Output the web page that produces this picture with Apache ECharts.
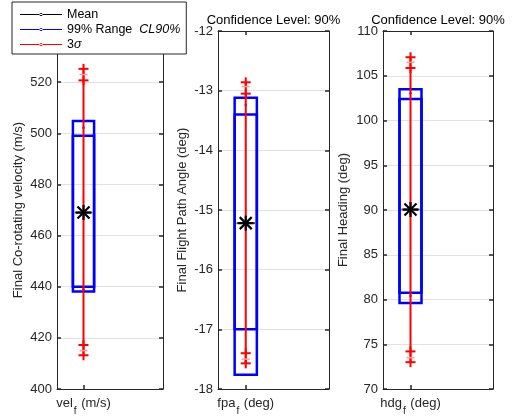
<!DOCTYPE html>
<html><head><meta charset="utf-8">
<script src="https://cdn.jsdelivr.net/npm/echarts@6/dist/echarts.min.js"></script>
<style>html,body{margin:0;padding:0;background:#fff}#c{width:514px;height:417px}</style>
</head><body><div id="c"></div>
<script>
// ---- data ----
const varNames = ['vel', 'fpa', 'hdg'];
const varUnits = ['(m/s)', '(deg)', '(deg)'];
const yAxisNames = ['Final Co-rotating velocity (m/s)', 'Final Flight Path Angle (deg)', 'Final Heading (deg)'];
const yMin = [400, -18, 70];
const yMax = [540, -12, 110];
const yStep = [20, 1, 5];
const meanValues = [469.0, -15.22, 90.05];
const range99Outer = [[438.1, 504.8], [-17.76, -13.12], [79.6, 103.5]];
const range99Inner = [[440.0, 499.0], [-17.0, -13.40], [80.75, 102.4]];
const range99Nominal = [[439.0, 502.2], [-17.54, -13.24], [80.4, 103.05]];
const sigma3Outer = [[413.2, 525.2], [-17.57, -12.86], [73.0, 107.07]];
const sigma3Inner = [[417.2, 520.7], [-17.40, -13.05], [74.2, 105.87]];
const sigma3Nominal = [[415.0, 523.0], [-17.5, -12.93], [73.5, 106.5]];
const titleText = 'Confidence Level: 90%';
const legendNames = ['Mean', '99% Range', '3σ'];

// ---- layout ----
const FONT = '"Liberation Sans", Arial, sans-serif';
const AX = '#262626';
const gridLeft = [57, 218, 383];
const gridWidth = [106, 111, 110];
const gridTop = 31, gridHeight = 358;
const nameGaps = [32, 29, 33];
const halfBox = 0.2;

const chart = echarts.init(document.getElementById('c'), null, {renderer: 'canvas'});

const grids = [], xAxes = [], yAxes = [], series = [], graphics = [];

function boxRender(params, api) {
  const x = api.value(0);
  const children = [];
  [[1, 2], [3, 4]].forEach(([a, b]) => {
    const p1 = api.coord([x - halfBox, api.value(b)]);
    const p2 = api.coord([x + halfBox, api.value(a)]);
    children.push({type: 'rect', shape: {x: p1[0], y: p1[1], width: p2[0] - p1[0], height: p2[1] - p1[1]},
      style: {fill: 'none', stroke: '#0000ff', lineWidth: 2.5}});
  });
  [5, 6].forEach(k => {
    const p = api.coord([x, api.value(k)]);
    children.push({type: 'circle', shape: {cx: p[0], cy: p[1], r: 1.3}, style: {fill: '#3a3aff'}});
  });
  return {type: 'group', children};
}

function sigmaRender(params, api) {
  const x = api.value(0);
  const children = [];
  const lo = api.coord([x, api.value(1)]), hi = api.coord([x, api.value(2)]);
  children.push({type: 'line', shape: {x1: lo[0], y1: lo[1], x2: hi[0], y2: hi[1]}, style: {stroke: '#ff0000', lineWidth: 2}});
  [1, 2, 3, 4].forEach(k => {
    const p = api.coord([x, api.value(k)]);
    children.push({type: 'line', shape: {x1: p[0] - 5, y1: p[1], x2: p[0] + 5, y2: p[1]}, style: {stroke: '#ff0000', lineWidth: 2}});
    children.push({type: 'line', shape: {x1: p[0], y1: p[1] - 5, x2: p[0], y2: p[1] + 5}, style: {stroke: '#ff0000', lineWidth: 2}});
  });
  [5, 6].forEach(k => {
    const p = api.coord([x, api.value(k)]);
    children.push({type: 'line', shape: {x1: p[0] - 4, y1: p[1], x2: p[0] + 4, y2: p[1]}, style: {stroke: '#ff9a9a', lineWidth: 1.5}});
  });
  return {type: 'group', children};
}

function meanRender(params, api) {
  const x = api.value(0);
  const p = api.coord([x, api.value(1)]);
  const pl = api.coord([x - 0.165, api.value(1)]);
  const pr = api.coord([x + 0.165, api.value(1)]);
  const children = [];
  children.push({type: 'line', shape: {x1: pl[0], y1: pl[1], x2: pr[0], y2: pr[1]}, style: {stroke: '#3a3a3a', lineWidth: 2}});
  const s = 7.5, d = 6;
  [[-s, 0, s, 0], [0, -s, 0, s], [-d, -d, d, d], [-d, d, d, -d]].forEach(q => {
    children.push({type: 'line', shape: {x1: p[0] + q[0], y1: p[1] + q[1], x2: p[0] + q[2], y2: p[1] + q[3]}, style: {stroke: '#000', lineWidth: 2.2}});
  });
  return {type: 'group', children};
}

const sub = {
  n: {fontSize: 13, color: AX, fontFamily: FONT, lineHeight: 15, verticalAlign: 'top'},
  s: {fontSize: 10, color: AX, fontFamily: FONT, lineHeight: 10, padding: [9, 1, 0, 1], verticalAlign: 'top'}
};

for (let i = 0; i < 3; i++) {
  grids.push({left: gridLeft[i], top: gridTop, width: gridWidth[i], height: gridHeight, containLabel: false});
  const name = varNames[i], unit = varUnits[i];
  xAxes.push({
    gridIndex: i, type: 'value', min: 0.5, max: 2.5, position: 'bottom',
    axisLine: {show: true, onZero: false, lineStyle: {color: AX, width: 1}},
    axisTick: {show: true, inside: true, length: 4, customValues: [1], lineStyle: {color: AX, width: 1.5}},
    axisLabel: {show: true, customValues: [1], margin: 8, formatter: () => '{n|' + name + '}{s|f}{n| ' + unit + '}', rich: sub},
    splitLine: {show: false}
  });
  xAxes.push({
    gridIndex: i, type: 'value', min: 0.5, max: 2.5, position: 'top',
    axisLine: {show: true, onZero: false, lineStyle: {color: AX, width: 1}},
    axisTick: {show: true, inside: true, length: 4, customValues: [1], lineStyle: {color: AX, width: 1.5}},
    axisLabel: {show: false}, splitLine: {show: false}
  });
  yAxes.push({
    gridIndex: i, type: 'value', min: yMin[i], max: yMax[i], interval: yStep[i], position: 'left',
    axisLine: {show: true, onZero: false, lineStyle: {color: AX, width: 1}},
    axisTick: {show: true, inside: true, length: 4, lineStyle: {color: AX, width: 1.5}},
    axisLabel: {fontSize: 13, color: AX, fontFamily: FONT, margin: 5},
    splitLine: {show: true, lineStyle: {color: '#e2e2e2', width: 1}},
    name: yAxisNames[i], nameLocation: 'middle', nameGap: nameGaps[i],
    nameTextStyle: {fontSize: 13, color: AX, fontFamily: FONT}
  });
  yAxes.push({
    gridIndex: i, type: 'value', min: yMin[i], max: yMax[i], interval: yStep[i], position: 'right',
    axisLine: {show: true, onZero: false, lineStyle: {color: AX, width: 1}},
    axisTick: {show: true, inside: true, length: 4, lineStyle: {color: AX, width: 1.5}},
    axisLabel: {show: false}, splitLine: {show: false}
  });
  series.push({
    name: legendNames[1], type: 'custom', xAxisIndex: 2 * i, yAxisIndex: 2 * i,
    itemStyle: {color: '#0000ff'}, renderItem: boxRender, encode: {x: 0, y: [1, 2]}, z: 3,
    data: [[1, range99Outer[i][0], range99Outer[i][1], range99Inner[i][0], range99Inner[i][1], range99Nominal[i][0], range99Nominal[i][1]]]
  });
  series.push({
    name: legendNames[2], type: 'custom', xAxisIndex: 2 * i, yAxisIndex: 2 * i,
    itemStyle: {color: '#ff0000'}, renderItem: sigmaRender, encode: {x: 0, y: [1, 2]}, z: 4,
    data: [[1, sigma3Outer[i][0], sigma3Outer[i][1], sigma3Inner[i][0], sigma3Inner[i][1], sigma3Nominal[i][0], sigma3Nominal[i][1]]]
  });
  series.push({
    name: legendNames[0], type: 'custom', xAxisIndex: 2 * i, yAxisIndex: 2 * i,
    itemStyle: {color: '#000000'}, renderItem: meanRender, encode: {x: 0, y: 1}, z: 5,
    data: [[1, meanValues[i]]]
  });
  if (i > 0) {
    graphics.push({type: 'text', x: gridLeft[i] + gridWidth[i] / 2, y: 20,
      style: {text: titleText, textAlign: 'center', textVerticalAlign: 'middle', font: '13px ' + FONT, fill: '#000'}});
  }
}

const legendIcon = 'path://M0,0M42,12M0,5.5H42V6.5H0ZM19.4,6a1.6,1.6 0 1,0 3.2,0a1.6,1.6 0 1,0 -3.2,0Z';

chart.setOption({
  animation: false,
  backgroundColor: '#fff',
  grid: grids, xAxis: xAxes, yAxis: yAxes, series: series,
  graphic: graphics,
  legend: {
    data: legendNames.map(n => ({name: n, icon: legendIcon})),
    orient: 'vertical', left: 12, top: 2, z: 20,
    itemWidth: 42, itemHeight: 12, itemGap: 2,
    padding: [6, 6, 3, 8],
    backgroundColor: '#fff', borderColor: AX, borderWidth: 1,
    selectedMode: false,
    textStyle: {fontSize: 12.5, color: '#000', fontFamily: FONT,
      rich: {r: {fontSize: 12.5, color: '#000', fontFamily: FONT}, i: {fontSize: 12.5, fontStyle: 'italic', color: '#000', fontFamily: FONT}}},
    formatter: function (n) {
      if (n === '99% Range') return '{r|99% Range}  {i|CL90%}';
      if (n === '3σ') return '{r|3}{i|σ}';
      return n;
    }
  }
});
</script></body></html>
